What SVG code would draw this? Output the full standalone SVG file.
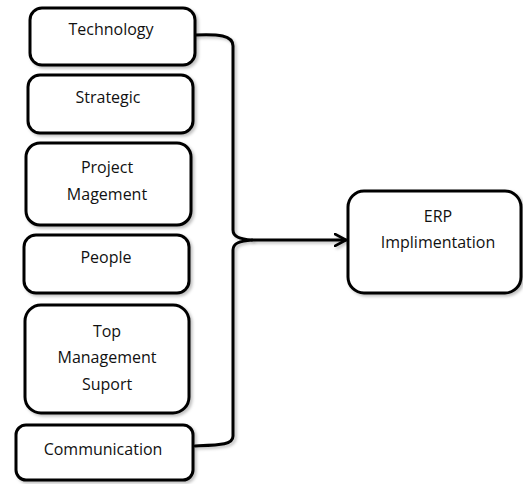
<svg xmlns="http://www.w3.org/2000/svg" width="523" height="484" viewBox="0 0 523 484">
<defs>
<filter id="sh" x="-10%" y="-10%" width="130%" height="130%">
<feDropShadow dx="2" dy="2" stdDeviation="1.5" flood-color="#000" flood-opacity="0.25"/>
</filter>
<filter id="shu" filterUnits="userSpaceOnUse" x="0" y="0" width="523" height="484">
<feDropShadow dx="2" dy="2" stdDeviation="1.5" flood-color="#000" flood-opacity="0.25"/>
</filter>
<marker id="arr" viewBox="0 0 14 14" refX="12" refY="7" markerWidth="14" markerHeight="14" markerUnits="userSpaceOnUse" orient="auto">
<path d="M1,1 L12,7 L1,13" fill="none" stroke="#000" stroke-width="2.6" stroke-linecap="round" stroke-linejoin="round"/>
</marker>
</defs>
<style>
.box{fill:#fff;stroke:#000;stroke-width:3;filter:url(#sh)}
.t{font-family:"Open Sans","Liberation Sans",sans-serif;font-size:16px;fill:#111;text-anchor:middle}
.c{fill:none;stroke:#000;stroke-width:3;stroke-linecap:round;stroke-linejoin:round;filter:url(#shu)}
</style>
<rect width="523" height="484" fill="#fff"/>
<g id="connectors">
<path class="c" d="M195,35 C218,34 233,35 233,46 L233,230 C233,237 240,239 252,240 C240,241 233,243 233,250 L233,436 C233,445 220,445 195,446"/>
<path class="c" d="M252,240 L346,240" marker-end="url(#arr)"/>
</g>
<g id="technology"><rect class="box" x="30" y="8" width="165" height="57" rx="12"/><text class="t" x="111" y="35">Technology</text></g>
<g id="strategic"><rect class="box" x="28" y="75" width="165" height="58" rx="12"/><text class="t" x="108" y="103">Strategic</text></g>
<g id="project"><rect class="box" x="26" y="143" width="165" height="82" rx="14"/><text class="t" x="107" y="173">Project</text><text class="t" x="107" y="200">Magement</text></g>
<g id="people"><rect class="box" x="24" y="235" width="165" height="58" rx="12"/><text class="t" x="106" y="263">People</text></g>
<g id="topmgmt"><rect class="box" x="25" y="305" width="164" height="108" rx="16"/><text class="t" x="107" y="337">Top</text><text class="t" x="107" y="363">Management</text><text class="t" x="107" y="390">Suport</text></g>
<g id="communication"><rect class="box" x="16" y="425" width="177" height="55" rx="10"/><text class="t" x="103" y="455">Communication</text></g>
<g id="erp"><rect class="box" x="348" y="191" width="173" height="102" rx="16"/><text class="t" x="438" y="222">ERP</text><text class="t" x="438" y="248">Implimentation</text></g>
</svg>
